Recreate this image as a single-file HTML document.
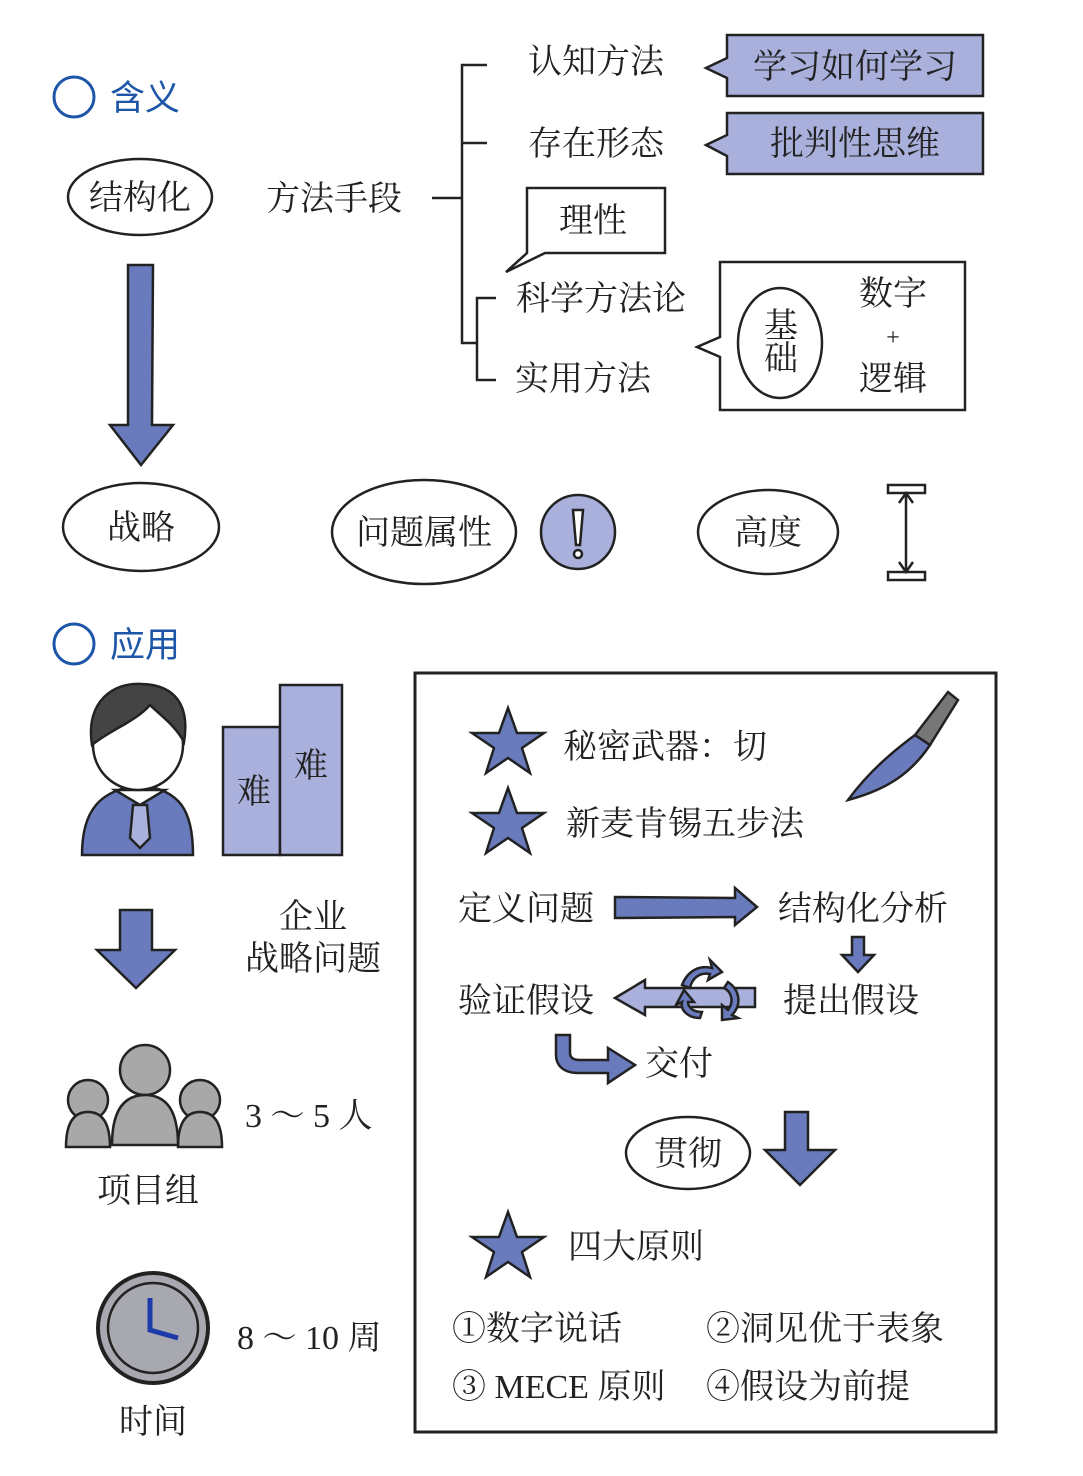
<!DOCTYPE html>
<html><head><meta charset="utf-8"><style>
html,body{margin:0;padding:0;background:#fff}
svg{display:block}
text{font-family:"Liberation Serif","Noto Serif CJK SC",serif;fill:#222}
.h{font-family:"Liberation Sans","Noto Sans CJK SC",sans-serif;fill:#1d56a8}
</style></head><body>
<svg width="1083" height="1476" viewBox="0 0 1083 1476" xmlns="http://www.w3.org/2000/svg">
<g stroke="#222" stroke-width="2.5" fill="none">
<circle cx="74" cy="97" r="20" stroke="#1d56a8" stroke-width="3"/>
<circle cx="74" cy="644" r="20" stroke="#1d56a8" stroke-width="3"/>
<ellipse cx="140" cy="197" rx="72" ry="38"/>
<ellipse cx="141" cy="527" rx="78" ry="44"/>
<path d="M128 265 L153 265 L152 425 L173 425 L141 465 L110 425 L128 425 Z" fill="#6a7bbd"/>
<path d="M432 198 H462 M487 65 H462 V343 H477 M487 143 H462 M496 298 H477 V380 H496"/>
<path d="M727 35 H983 V96 H727 V78 L706 68 L727 58 Z" fill="#a9b0dc"/>
<path d="M727 113 H983 V174 H727 V156 L706 145 L727 135 Z" fill="#a9b0dc"/>
<path d="M527 188 H665 V253 H545 L506 272 L527 253 Z" fill="#fff"/>
<path d="M720 262 H965 V410 H720 V357 L697 347 L720 337 Z"/>
<ellipse cx="780" cy="343" rx="42" ry="55"/>
<ellipse cx="424" cy="532" rx="92" ry="52"/>
<circle cx="578" cy="532" r="37" fill="#a9b0dc"/>
<path d="M573 510 L583 510 L580 545 L576 545 Z" fill="#fff"/>
<circle cx="578" cy="554" r="4" fill="#fff"/>
<ellipse cx="768" cy="532" rx="70" ry="42"/>
<rect x="888" y="485" width="37" height="8" fill="#fff"/>
<rect x="888" y="572" width="37" height="8" fill="#fff"/>
<path d="M906 493 V572 M899 503 L906 493 L913 503 M899 562 L906 572 L913 562"/>
<path d="M82 855 C82 810 100 790 140 785 C180 790 193 810 193 855 Z" fill="#6a7bbd"/>
<path d="M115 790 L140 805 L165 790 L140 790 Z" fill="#fff"/>
<path d="M133 805 L147 805 L150 838 L140 848 L130 838 Z" fill="#a9b0dc"/>
<ellipse cx="138" cy="745" rx="45" ry="45" fill="#fff"/>
<path d="M92 745 C85 700 115 682 142 684 C175 685 190 705 184 742 C175 725 160 715 150 705 C135 722 110 730 92 745 Z" fill="#444"/>
<rect x="223" y="727" width="57" height="128" fill="#a9b0dc"/>
<rect x="280" y="685" width="62" height="170" fill="#a9b0dc"/>
<path d="M120 910 H152 V950 H175 L136 988 L97 950 H120 Z" fill="#6a7bbd"/>
<g fill="#a8a8a8">
<circle cx="88" cy="1100" r="20"/><path d="M66 1147 C66 1120 76 1112 88 1112 C100 1112 110 1120 110 1147 Z"/>
<circle cx="200" cy="1100" r="20"/><path d="M178 1147 C178 1120 188 1112 200 1112 C212 1112 222 1120 222 1147 Z"/>
<circle cx="145" cy="1070" r="25"/><path d="M112 1145 C112 1105 128 1095 145 1095 C162 1095 178 1105 178 1145 Z"/>
</g>
<circle cx="153" cy="1328" r="55" fill="#a8a9b0" stroke-width="4"/>
<circle cx="153" cy="1328" r="45"/>
<path d="M150 1298 V1330 L178 1338" stroke="#1d3aa8" stroke-width="5"/>
<rect x="415" y="673" width="581" height="759" stroke-width="3"/>
<g fill="#6a7bbd">
<polygon points="508,708 517,733 544,733 522,748 530,773 508,758 486,773 494,748 472,733 499,733"/>
<polygon points="508,788 517,813 544,813 522,828 530,853 508,838 486,853 494,828 472,813 499,813"/>
<polygon points="508,1212 517,1237 544,1237 522,1252 530,1277 508,1262 486,1277 494,1252 472,1237 499,1237"/>
</g>
<path d="M848 800 C870 770 895 750 915 735 L930 745 C910 775 885 790 848 800 Z" fill="#6a7bbd"/>
<path d="M915 735 L948 692 L958 700 L930 745 Z" fill="#777"/>
<path d="M615 897 L735 898 L735 888 L757 907 L735 925 L735 917 L615 918 Z" fill="#6a7bbd"/>
<path d="M852 937 H864 V955 H874 L858 972 L842 955 H852 Z" fill="#6a7bbd"/>
<path d="M755 988 H645 V980 L615 998 L645 1015 V1007 H755 Z" fill="#a9b0dc"/>
<path d="M682 985 C688 970 700 965 712 968 L710 960 L722 972 L708 980 L710 974 C700 972 692 978 690 988 Z" fill="#6a7bbd"/>
<path d="M700 1018 C688 1018 680 1010 682 1002 L676 1005 L684 990 L694 1002 L688 1002 C688 1008 694 1012 702 1012 Z" fill="#6a7bbd"/>
<path d="M728 982 C740 990 742 1005 732 1015 L738 1018 L722 1020 L722 1005 L728 1010 C734 1002 732 992 724 988 Z" fill="#6a7bbd"/>
<path d="M556 1035 H570 V1053 C570 1058 574 1060 580 1060 H608 V1048 L635 1065 L608 1083 V1073 H578 C563 1073 556 1065 556 1055 Z" fill="#6a7bbd"/>
<ellipse cx="688" cy="1153" rx="62" ry="36"/>
<path d="M785 1112 H808 V1150 H835 L800 1185 L765 1150 H785 Z" fill="#6a7bbd"/>
</g>
<text x="110" y="110" font-size="35" class="h">含义</text>
<text x="110" y="657" font-size="35" class="h">应用</text>
<g font-size="34" text-anchor="middle">
<text x="140" y="209">结构化</text>
<text x="141" y="539">战略</text>
<text x="334" y="210">方法手段</text>
<text x="596" y="73">认知方法</text>
<text x="596" y="155">存在形态</text>
<text x="855" y="78">学习如何学习</text>
<text x="855" y="155">批判性思维</text>
<text x="593" y="232">理性</text>
<text x="601" y="310">科学方法论</text>
<text x="583" y="390">实用方法</text>
<text x="781" y="337">基</text>
<text x="781" y="370">础</text>
<text x="893" y="305">数字</text>
<text x="893" y="345" font-size="24">+</text>
<text x="893" y="390">逻辑</text>
<text x="424" y="544">问题属性</text>
<text x="768" y="544">高度</text>
<text x="254" y="803">难</text>
<text x="311" y="777">难</text>
<text x="313" y="928">企业</text>
<text x="313" y="970">战略问题</text>
<text x="148" y="1202">项目组</text>
<text x="153" y="1433">时间</text>
<text x="688" y="1165">贯彻</text>
</g>
<g font-size="34">
<text x="245" y="1127">3 ～ 5 人</text>
<text x="237" y="1349">8 ～ 10 周</text>
<text x="563" y="758">秘密武器：切</text>
<text x="566" y="835">新麦肯锡五步法</text>
<text x="458" y="920">定义问题</text>
<text x="778" y="920">结构化分析</text>
<text x="458" y="1012">验证假设</text>
<text x="783" y="1012">提出假设</text>
<text x="645" y="1075">交付</text>
<text x="568" y="1258">四大原则</text>
<text x="452" y="1340">①数字说话</text>
<text x="706" y="1340">②洞见优于表象</text>
<text x="452" y="1398">③ MECE 原则</text>
<text x="706" y="1398">④假设为前提</text>
</g>
</svg>
</body></html>
